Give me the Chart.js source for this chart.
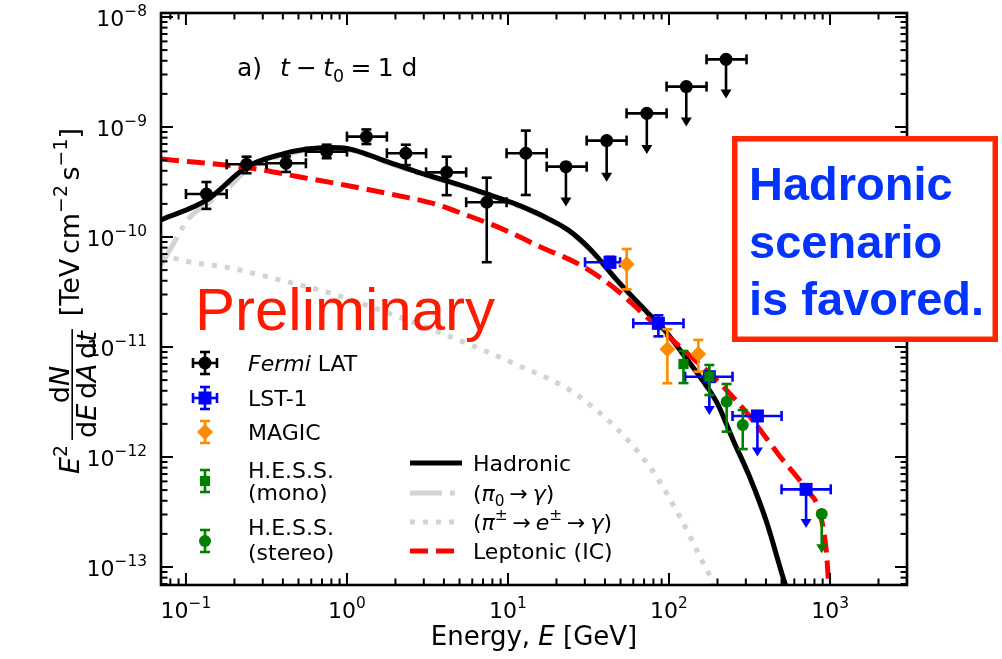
<!DOCTYPE html>
<html>
<head>
<meta charset="utf-8">
<script src="https://cdn.jsdelivr.net/npm/chart.js@4.4.1/dist/chart.umd.min.js"></script>
<style>
  html, body { margin: 0; padding: 0; background: #fff; }
  canvas { display: block; }
</style>
</head>
<body>
<canvas id="sed" width="1002" height="659"></canvas>
<script>
// ===== Ejes =====
const xTickVals = [0.1, 1, 10, 100, 1000];
const xTickExp = ["−1", "0", "1", "2", "3"];
const yTickVals = [1e-13, 1e-12, 1e-11, 1e-10, 1e-9, 1e-8];
const yTickExp = ["−13", "−12", "−11", "−10", "−9", "−8"];

// ===== Fermi LAT =====
const fermiE = [0.134, 0.238, 0.418, 0.748, 1.32, 2.32, 4.16, 7.38, 12.9, 22.9, 41.0, 72.8, 128, 226];
const fermiF = [2.46e-10, 4.58e-10, 4.68e-10, 5.97e-10, 8.17e-10, 5.77e-10, 3.87e-10, 2.07e-10, 5.77e-10, 4.36e-10, 7.52e-10, 1.33e-9, 2.33e-9, 4.12e-9];
const fermiElo = [0.100, 0.179, 0.317, 0.556, 1.00, 1.77, 3.10, 5.50, 9.80, 17.4, 30.8, 54.5, 96.6, 171];
const fermiEhi = [0.179, 0.317, 0.556, 1.00, 1.77, 3.10, 5.50, 9.80, 17.4, 30.8, 54.5, 96.6, 171, 303];
const fermiFlo = [1.80e-10, 3.80e-10, 3.90e-10, 5.20e-10, 7.00e-10, 4.50e-10, 2.40e-10, 5.90e-11, 2.41e-10, 1.89e-10, 3.18e-10, 5.69e-10, 1.01e-9, 1.82e-9];
const fermiFhi = [3.16e-10, 5.37e-10, 5.40e-10, 6.90e-10, 9.50e-10, 6.90e-10, 5.37e-10, 3.46e-10, 9.27e-10, null, null, null, null, null];
const fermiUL = [0, 0, 0, 0, 0, 0, 0, 0, 0, 1, 1, 1, 1, 1];

// ===== LST-1 =====
const lstE = [43.0, 85.9, 178, 354, 710];
const lstF = [5.89e-11, 1.64e-11, 5.37e-12, 2.36e-12, 5.08e-13];
const lstElo = [30.1, 60.0, 126, 248, 500];
const lstEhi = [49.7, 123, 248, 500, 1010];
const lstFlo = [5.30e-11, 1.25e-11, 2.41e-12, 1.01e-12, 2.26e-13];
const lstFhi = [6.60e-11, 1.94e-11, null, null, null];
const lstUL = [0, 0, 1, 1, 1];

// ===== MAGIC =====
const magicE = [54.6, 97.7, 152];
const magicF = [5.65e-11, 9.53e-12, 8.63e-12];
const magicFlo = [3.34e-11, 4.68e-12, 5.96e-12];
const magicFhi = [7.78e-11, 1.45e-11, 1.16e-11];

// ===== H.E.S.S. mono / stereo =====
const monoE = [123, 178];
const monoF = [7.0e-12, 5.37e-12];
const monoFlo = [4.7e-12, 3.66e-12];
const monoFhi = [9.2e-12, 6.86e-12];

const stereoE = [228, 287, 888];
const stereoF = [3.18e-12, 1.95e-12, 3.03e-13];
const stereoFlo = [1.70e-12, 1.18e-12, 1.33e-13];
const stereoFhi = [4.61e-12, 2.67e-12, null];
const stereoUL = [0, 0, 1];

// ===== Modelos =====
const hadE = [0.07, 0.135, 0.239, 0.400, 0.565, 0.784, 1.00, 1.67, 2.72, 4.18, 7.41, 10.7, 16.5, 23.6, 32.3, 47.5, 72.9, 97.2, 122, 156, 199, 250, 319, 400, 510, 565];
const hadF = [1.43e-10, 2.17e-10, 4.33e-10, 5.69e-10, 6.31e-10, 6.51e-10, 6.38e-10, 5.01e-10, 3.90e-10, 3.23e-10, 2.46e-10, 2.04e-10, 1.55e-10, 1.16e-10, 7.78e-11, 4.06e-11, 2.08e-11, 1.34e-11, 8.63e-12, 5.33e-12, 3.10e-12, 1.43e-12, 6.44e-13, 2.67e-13, 8.1e-14, 5.0e-14];

const pi0E = [0.07, 0.0818, 0.1033, 0.135, 0.188, 0.239, 0.400, 0.565, 0.784, 1.00, 1.67, 2.72, 4.18, 7.41, 10.7, 16.5, 23.6, 32.3, 47.5, 72.9, 97.2, 122, 156, 199, 250, 319, 400, 510, 565];
const pi0F = [5.6e-11, 8.2e-11, 1.45e-10, 2.0e-10, 2.9e-10, 4.1e-10, 5.5e-10, 6.15e-10, 6.35e-10, 6.25e-10, 4.9e-10, 3.82e-10, 3.17e-10, 2.41e-10, 2.0e-10, 1.52e-10, 1.14e-10, 7.62e-11, 3.98e-11, 2.04e-11, 1.31e-11, 8.45e-12, 5.22e-12, 3.04e-12, 1.40e-12, 6.3e-13, 2.62e-13, 8.0e-14, 5.0e-14];

const piE = [0.07, 0.106, 0.188, 0.384, 0.784, 1.60, 3.42, 10.7, 28.0, 72.9, 117, 156, 180, 200];
const piF = [6.86e-11, 5.93e-11, 5.23e-11, 4.06e-11, 3.10e-11, 2.17e-11, 1.43e-11, 7.16e-12, 3.51e-12, 8.82e-13, 2.85e-13, 1.23e-13, 8.1e-14, 5.0e-14];

const lepE = [0.07, 0.25, 0.511, 1.04, 2.13, 3.42, 5.54, 8.91, 15.8, 29.4, 47.3, 76.2, 123, 198, 319, 489, 716, 866, 955, 977, 990];
const lepF = [5.12e-10, 4.24e-10, 3.51e-10, 2.91e-10, 2.36e-10, 2.02e-10, 1.58e-10, 1.21e-10, 8.17e-11, 5.37e-11, 3.30e-11, 1.76e-11, 9.4e-12, 5.01e-12, 2.32e-12, 1.01e-12, 5.01e-13, 3.08e-13, 1.24e-13, 7.2e-14, 5.0e-14];

// ===== Helpers =====
const FONT = '"DejaVu Sans"';

function pts(xs, ys) {
  return xs.map((x, i) => ({ x: x, y: ys[i] }));
}

function partFont(p, size) {
  return (p.i ? "italic " : "") + (size * (p.sc || 1)).toFixed(1) + "px " + FONT;
}

function richWidth(ctx, parts, size) {
  let w = 0;
  parts.forEach((p) => {
    ctx.font = partFont(p, size);
    w += ctx.measureText(p.t).width + (p.sp || 0) * size;
  });
  return w;
}

function drawRich(ctx, parts, x, y, size, align) {
  const w = richWidth(ctx, parts, size);
  let cx = align === "center" ? x - w / 2 : align === "right" ? x - w : x;
  ctx.textAlign = "left";
  ctx.textBaseline = "alphabetic";
  parts.forEach((p) => {
    ctx.font = partFont(p, size);
    ctx.fillText(p.t, cx, y + (p.dy || 0) * size);
    cx += ctx.measureText(p.t).width + (p.sp || 0) * size;
  });
  return w;
}

const sup = (t, sp) => ({ t: t, sc: 0.7, dy: -0.45, sp: sp || 0 });
const sub = (t, sp) => ({ t: t, sc: 0.7, dy: 0.22, sp: sp || 0 });

function drawMarker(ctx, style, x, y, r, color) {
  ctx.fillStyle = color;
  ctx.beginPath();
  if (style === "circle") {
    ctx.arc(x, y, r, 0, Math.PI * 2);
  } else if (style === "rect") {
    const s = Math.SQRT1_2 * r;
    ctx.rect(x - s, y - s, 2 * s, 2 * s);
  } else {
    ctx.moveTo(x - r, y);
    ctx.lineTo(x, y - r);
    ctx.lineTo(x + r, y);
    ctx.lineTo(x, y + r);
    ctx.closePath();
  }
  ctx.fill();
}

function seg(ctx, x1, y1, x2, y2) {
  ctx.beginPath();
  ctx.moveTo(x1, y1);
  ctx.lineTo(x2, y2);
  ctx.stroke();
}

const CAP = 5;

function drawArrow(ctx, x, y0, y1) {
  seg(ctx, x, y0, x, y1 - 8);
  ctx.beginPath();
  ctx.moveTo(x - 5.5, y1 - 9);
  ctx.lineTo(x + 5.5, y1 - 9);
  ctx.lineTo(x, y1);
  ctx.closePath();
  ctx.fill();
}

// ===== Barras de error (debajo de cada marcador) =====
const errorBars = {
  id: "errorBars",
  beforeDatasetDraw(chart, args) {
    const ds = chart.data.datasets[args.index];
    if (!ds.err) return;
    const ctx = chart.ctx;
    const xs = chart.scales.x;
    const ys = chart.scales.y;
    const e = ds.err;
    ctx.save();
    ctx.strokeStyle = ds.backgroundColor;
    ctx.fillStyle = ds.backgroundColor;
    ctx.lineWidth = 2.6;
    ds.data.forEach((p, i) => {
      const px = xs.getPixelForValue(p.x);
      const py = ys.getPixelForValue(p.y);
      if (e.xlo) {
        const a = xs.getPixelForValue(e.xlo[i]);
        const b = xs.getPixelForValue(e.xhi[i]);
        seg(ctx, a, py, b, py);
        seg(ctx, a, py - CAP, a, py + CAP);
        seg(ctx, b, py - CAP, b, py + CAP);
      }
      if (e.ul && e.ul[i]) {
        drawArrow(ctx, px, py, ys.getPixelForValue(e.ylo[i]));
      } else {
        const lo = ys.getPixelForValue(e.ylo[i]);
        const hi = ys.getPixelForValue(e.yhi[i]);
        seg(ctx, px, lo, px, hi);
        seg(ctx, px - CAP, lo, px + CAP, lo);
        seg(ctx, px - CAP, hi, px + CAP, hi);
      }
    });
    ctx.restore();
  },
};

// ===== Marco, ticks, etiquetas, leyenda y textos =====
function drawYLabel(ctx, bx, cy) {
  const S = 27;
  const eParts = [{ t: "E", i: 1 }, sup("2")];
  const num = [{ t: "d" }, { t: "N", i: 1 }];
  const den = [{ t: "d" }, { t: "E", i: 1, sp: 0.17 }, { t: "d" }, { t: "A", i: 1, sp: 0.17 }, { t: "d" }, { t: "t", i: 1 }];
  const unit = [{ t: "[TeV", sp: 0.17 }, { t: "cm" }, sup("−2", 0.17), { t: "s" }, sup("−1"), { t: "]" }];
  const wE = richWidth(ctx, eParts, S);
  const wF = Math.max(richWidth(ctx, num, S), richWidth(ctx, den, S)) + 4;
  const wU = richWidth(ctx, unit, S);
  const g1 = 5, g2 = 13;
  const total = wE + g1 + wF + g2 + wU;
  ctx.save();
  ctx.translate(bx, cy);
  ctx.rotate(-Math.PI / 2);
  ctx.fillStyle = "#000";
  let u = -total / 2;
  drawRich(ctx, eParts, u, 0, S, "left");
  u += wE + g1;
  drawRich(ctx, num, u + wF / 2, -10, S, "center");
  drawRich(ctx, den, u + wF / 2, 17, S, "center");
  ctx.fillRect(u, -7.6, wF, 1.6);
  u += wF + g2;
  drawRich(ctx, unit, u, 0, S, "left");
  ctx.restore();
}

function drawLegend(ctx) {
  const S = 22;
  ctx.save();
  ctx.lineWidth = 2.6;
  // columna izquierda: datos
  const mx = 205, tx = 248;
  const left = [
    { y: 363, color: "#000000", style: "circle", r: 6.5, xe: true, lines: [[{ t: "Fermi", i: 1 }, { t: " LAT" }]], ty: [363] },
    { y: 398, color: "#0000ff", style: "rect", r: 9.2, xe: true, lines: [[{ t: "LST-1" }]], ty: [398] },
    { y: 432, color: "#ff8c00", style: "diamond", r: 8, xe: false, lines: [[{ t: "MAGIC" }]], ty: [432] },
    { y: 481, color: "#008000", style: "rect", r: 7.2, xe: false, lines: [[{ t: "H.E.S.S." }], [{ t: "(mono)" }]], ty: [470, 492] },
    { y: 541, color: "#008000", style: "circle", r: 6, xe: false, lines: [[{ t: "H.E.S.S." }], [{ t: "(stereo)" }]], ty: [527, 552] },
  ];
  left.forEach((it) => {
    ctx.strokeStyle = it.color;
    ctx.fillStyle = it.color;
    seg(ctx, mx, it.y - 11, mx, it.y + 11);
    seg(ctx, mx - CAP, it.y - 11, mx + CAP, it.y - 11);
    seg(ctx, mx - CAP, it.y + 11, mx + CAP, it.y + 11);
    if (it.xe) {
      seg(ctx, mx - 12, it.y, mx + 12, it.y);
      seg(ctx, mx - 12, it.y - CAP, mx - 12, it.y + CAP);
      seg(ctx, mx + 12, it.y - CAP, mx + 12, it.y + CAP);
    }
    drawMarker(ctx, it.style, mx, it.y, it.r, it.color);
    ctx.fillStyle = "#000";
    it.lines.forEach((ln, k) => drawRich(ctx, ln, tx, it.ty[k] + 8, S, "left"));
  });
  // columna derecha: modelos
  const arrow = { t: "→", sp: 0.22 };
  const right = [
    { y: 463, color: "#000000", dash: [], text: [{ t: "Hadronic" }] },
    { y: 493, color: "#d3d3d3", dash: [32, 8, 5, 8], text: [{ t: "(" }, { t: "π", i: 1 }, sub("0", 0.22), arrow, { t: "γ", i: 1 }, { t: ")" }] },
    { y: 522, color: "#d3d3d3", dash: [5, 8], text: [{ t: "(" }, { t: "π", i: 1 }, sup("±", 0.22), arrow, { t: "e", i: 1 }, sup("±", 0.22), arrow, { t: "γ", i: 1 }, { t: ")" }] },
    { y: 551, color: "#ff0000", dash: [18, 8], text: [{ t: "Leptonic (IC)" }] },
  ];
  right.forEach((it) => {
    ctx.strokeStyle = it.color;
    ctx.lineWidth = 5;
    ctx.setLineDash(it.dash);
    seg(ctx, 410, it.y, 462, it.y);
    ctx.setLineDash([]);
    ctx.fillStyle = "#000";
    drawRich(ctx, it.text, 473, it.y + 8, S, "left");
  });
  ctx.restore();
}

const decor = {
  id: "decor",
  afterDraw(chart) {
    const ctx = chart.ctx;
    const ca = chart.chartArea;
    const xs = chart.scales.x;
    const ys = chart.scales.y;
    ctx.save();
    ctx.strokeStyle = "#000";
    ctx.fillStyle = "#000";

    // marco
    ctx.lineWidth = 2.6;
    ctx.strokeRect(ca.left, ca.top, ca.right - ca.left, ca.bottom - ca.top);

    // ticks hacia adentro en los cuatro lados
    ctx.lineWidth = 2;
    for (let d = -2; d <= 3; d++) {
      for (let m = 1; m <= 9; m++) {
        const v = m * Math.pow(10, d);
        if (v < xs.min || v > xs.max) continue;
        const px = xs.getPixelForValue(v);
        const len = m === 1 ? 12 : 6.5;
        seg(ctx, px, ca.bottom, px, ca.bottom - len);
        seg(ctx, px, ca.top, px, ca.top + len);
      }
    }
    for (let d = -14; d <= -8; d++) {
      for (let m = 1; m <= 9; m++) {
        const v = m * Math.pow(10, d);
        if (v < ys.min || v > ys.max) continue;
        const py = ys.getPixelForValue(v);
        const len = m === 1 ? 12 : 6.5;
        seg(ctx, ca.left, py, ca.left + len, py);
        seg(ctx, ca.right, py, ca.right - len, py);
      }
    }

    // etiquetas de ticks
    xTickVals.forEach((v, i) => {
      drawRich(ctx, [{ t: "10" }, sup(xTickExp[i])], xs.getPixelForValue(v), 618, 22, "center");
    });
    yTickVals.forEach((v, i) => {
      drawRich(ctx, [{ t: "10" }, sup(yTickExp[i])], 147, ys.getPixelForValue(v) + 9, 22, "right");
    });

    // títulos de ejes
    drawRich(ctx, [{ t: "Energy, " }, { t: "E", i: 1 }, { t: " [GeV]" }], (ca.left + ca.right) / 2, 645, 26, "center");
    drawYLabel(ctx, 79, (ca.top + ca.bottom) / 2 + 2);

    // anotación del panel
    ctx.fillStyle = "#000";
    drawRich(ctx, [{ t: "a)" }], 237, 76, 25, "left");
    drawRich(ctx, [{ t: "t", i: 1, sp: 0.25 }, { t: "−", sp: 0.25 }, { t: "t", i: 1 }, sub("0", 0.25), { t: "=", sp: 0.25 }, { t: "1 d" }], 280, 76, 25, "left");

    drawLegend(ctx);

    // "Preliminary"
    ctx.fillStyle = "#ff1a00";
    ctx.font = '60px "Liberation Sans"';
    ctx.textAlign = "left";
    ctx.fillText("Preliminary", 195, 330);

    // recuadro
    ctx.fillStyle = "#ffffff";
    ctx.fillRect(734, 138, 262, 202);
    ctx.strokeStyle = "#ff2600";
    ctx.lineWidth = 5.5;
    ctx.strokeRect(734.75, 138.75, 260.5, 200.5);
    ctx.fillStyle = "#0433ff";
    ctx.font = 'bold 47px "Liberation Sans"';
    ctx.fillText("Hadronic", 749, 200);
    ctx.fillText("scenario", 749, 257.5);
    ctx.fillText("is favored.", 749, 315);
    ctx.restore();
  },
};

// ===== Datasets =====
function modelSet(xs, ys, color, dash, order) {
  return {
    data: pts(xs, ys),
    showLine: true,
    borderColor: color,
    backgroundColor: color,
    borderWidth: 5,
    borderDash: dash,
    pointRadius: 0,
    cubicInterpolationMode: "monotone",
    clip: 0,
    order: order,
  };
}

function dataSet(xs, ys, color, style, r, err, order) {
  return {
    data: pts(xs, ys),
    showLine: false,
    pointStyle: style,
    pointRadius: r,
    backgroundColor: color,
    borderColor: color,
    borderWidth: 0,
    err: err,
    order: order,
  };
}

const datasets = [
  modelSet(piE, piF, "#d3d3d3", [5, 8], 14),
  modelSet(pi0E, pi0F, "#d3d3d3", [32, 8, 5, 8], 13),
  modelSet(hadE, hadF, "#000000", [], 12),
  modelSet(lepE, lepF, "#ff0000", [18, 8], 11),
  dataSet(fermiE, fermiF, "#000000", "circle", 6.5,
    { xlo: fermiElo, xhi: fermiEhi, ylo: fermiFlo, yhi: fermiFhi, ul: fermiUL }, 5),
  dataSet(lstE, lstF, "#0000ff", "rect", 9.2,
    { xlo: lstElo, xhi: lstEhi, ylo: lstFlo, yhi: lstFhi, ul: lstUL }, 4),
  dataSet(magicE, magicF, "#ff8c00", "rectRot", 8,
    { ylo: magicFlo, yhi: magicFhi }, 3),
  dataSet(monoE, monoF, "#008000", "rect", 7.2,
    { ylo: monoFlo, yhi: monoFhi }, 2),
  dataSet(stereoE, stereoF, "#008000", "circle", 6,
    { ylo: stereoFlo, yhi: stereoFhi, ul: stereoUL }, 1),
];

Chart.defaults.font.family = FONT;

new Chart(document.getElementById("sed"), {
  type: "scatter",
  data: { datasets: datasets },
  options: {
    responsive: false,
    animation: false,
    events: [],
    devicePixelRatio: 1,
    layout: { padding: { top: 13, right: 95, left: 0, bottom: 0 } },
    plugins: { legend: { display: false }, tooltip: { enabled: false } },
    scales: {
      x: {
        type: "logarithmic",
        min: 0.07,
        max: 3006,
        ticks: { display: false },
        grid: { display: false },
        border: { display: false },
        afterFit: (s) => { s.height = 74; },
      },
      y: {
        type: "logarithmic",
        min: 6.86e-14,
        max: 1.087e-8,
        ticks: { display: false },
        grid: { display: false },
        border: { display: false },
        afterFit: (s) => { s.width = 161; },
      },
    },
  },
  plugins: [errorBars, decor],
});
</script>
</body>
</html>
